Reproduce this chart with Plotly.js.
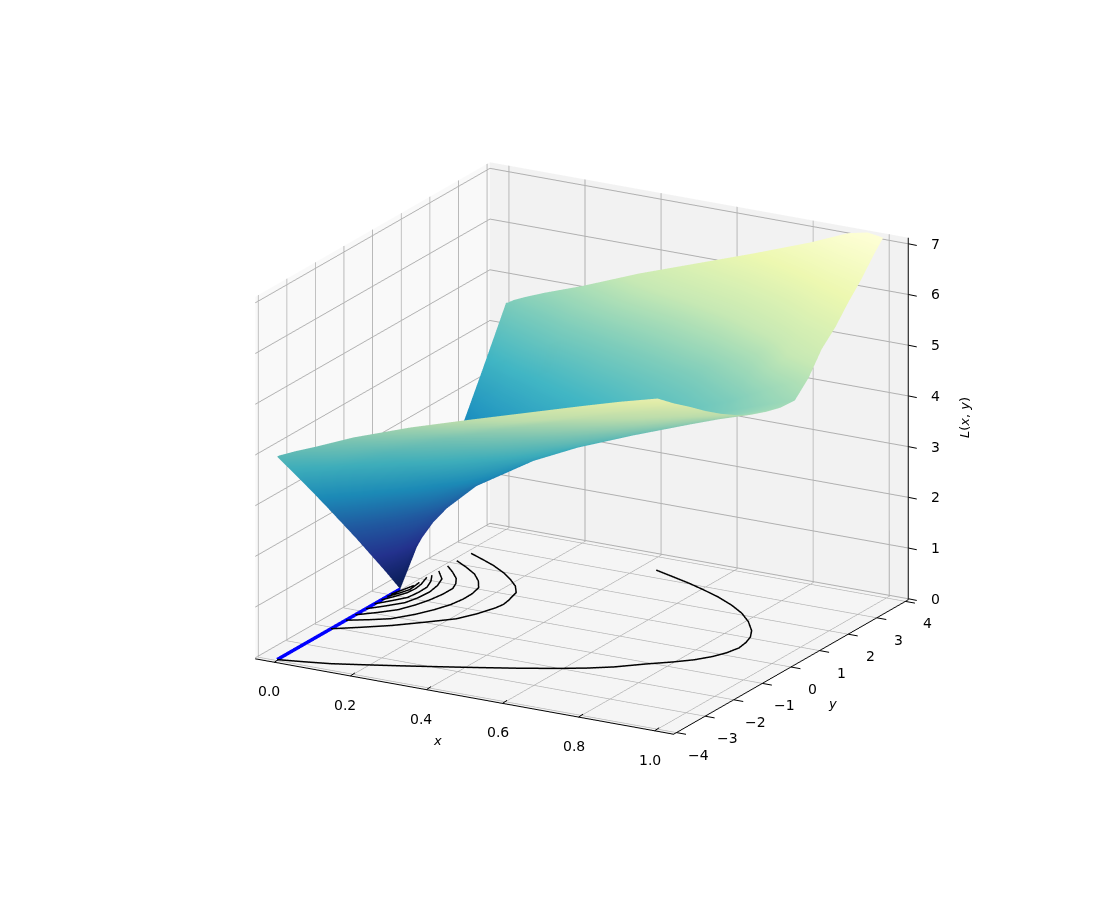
<!DOCTYPE html>
<html>
<head>
<meta charset="utf-8">
<script src="https://cdn.plot.ly/plotly-3.0.1.min.js"></script>
<style>
  html, body { margin: 0; padding: 0; background: #fff; }
  #myPlot { width: 1117px; height: 905px; }
</style>
</head>
<body>
<div id="myPlot"></div>
<script>
// Surface values
var xVals = [0, 0.005, 0.02, 0.05, 0.1, 0.2, 0.35, 0.5, 0.65, 0.8, 0.9, 1];
var yVals = [-4, -3.43, -2.87, -2.32, -1.78, -1.24, -0.72, -0.2, 0.3, 0.8, 1.28, 1.74, 2.22, 2.68, 3.13, 3.57, 4];
var zVals = [
  [4.00, 4.03, 4.08, 4.18, 4.33, 4.65, 5.05, 5.40, 5.74, 6.08, 6.30, 6.50],
  [3.50, 3.53, 3.61, 3.74, 3.90, 4.28, 4.72, 5.08, 5.42, 5.77, 6.00, 6.22],
  [3.00, 3.04, 3.12, 3.29, 3.55, 3.97, 4.45, 4.84, 5.20, 5.54, 5.76, 5.97],
  [2.50, 2.54, 2.63, 2.82, 3.10, 3.57, 4.09, 4.51, 4.89, 5.25, 5.49, 5.71],
  [2.00, 2.04, 2.15, 2.36, 2.68, 3.19, 3.76, 4.22, 4.62, 5.00, 5.25, 5.48],
  [1.50, 1.55, 1.67, 1.93, 2.29, 2.86, 3.47, 3.96, 4.39, 4.79, 5.05, 5.28],
  [1.00, 1.07, 1.23, 1.53, 1.95, 2.58, 3.24, 3.76, 4.20, 4.61, 4.88, 5.12],
  [0.50, 0.61, 0.85, 1.22, 1.70, 2.39, 3.08, 3.62, 4.07, 4.49, 4.76, 5.01],
  [0.00, 0.33, 0.67, 1.10, 1.60, 2.30, 3.00, 3.54, 4.00, 4.42, 4.69, 4.93],
  [0.55, 0.66, 0.88, 1.23, 1.68, 2.36, 3.04, 3.55, 3.99, 4.40, 4.67, 4.91],
  [1.11, 1.21, 1.38, 1.64, 1.99, 2.57, 3.18, 3.65, 4.06, 4.48, 4.85, 5.20],
  [1.67, 1.76, 1.93, 2.11, 2.43, 2.93, 3.41, 3.90, 4.28, 4.78, 5.30, 5.62],
  [2.22, 2.30, 2.42, 2.64, 2.90, 3.33, 3.80, 4.21, 4.58, 5.12, 5.60, 5.90],
  [2.78, 2.85, 2.95, 3.10, 3.36, 3.72, 4.22, 4.60, 5.00, 5.55, 5.95, 6.25],
  [3.34, 3.39, 3.49, 3.65, 3.87, 4.26, 4.65, 5.00, 5.42, 5.92, 6.28, 6.55],
  [3.90, 3.92, 4.01, 4.14, 4.33, 4.69, 5.13, 5.48, 5.86, 6.32, 6.65, 6.90],
  [4.45, 4.46, 4.53, 4.63, 4.78, 5.05, 5.50, 5.90, 6.30, 6.72, 7.04, 7.20]
];

// Curves on the floor, x and y pairs
var curveX = [
  [0, 0.06, 0.122, 0.19, 0.268, 0.345, 0.427, 0.508, 0.588, 0.65, 0.70, 0.753, 0.80, 0.835, 0.86, 0.875, 0.883, 0.878, 0.868, 0.848, 0.81, 0.767, 0.72, 0.664, 0.61, 0.556, 0.50, 0.446],
  [0, 0.055, 0.11, 0.165, 0.216, 0.24, 0.256, 0.26, 0.256, 0.244, 0.22, 0.189, 0.15, 0.105, 0.06, 0.017],
  [0, 0.045, 0.085, 0.118, 0.14, 0.155, 0.161, 0.16, 0.152, 0.128, 0.096, 0.055, 0.014],
  [0, 0.037, 0.068, 0.086, 0.097, 0.103, 0.103, 0.092, 0.075, 0.045, 0.014],
  [0, 0.03, 0.057, 0.066, 0.069, 0.062, 0.048, 0.03, 0.014],
  [0, 0.024, 0.044, 0.048, 0.047, 0.034, 0.015],
  [0, 0.015, 0.027, 0.029, 0.025, 0.012],
  [0, 0.012, 0.021, 0.015],
  [0, 0.015]
];
var curveY = [
  [-4, -3.88, -3.74, -3.52, -3.26, -2.99, -2.7, -2.4, -2.08, -1.8, -1.52, -1.12, -0.8, -0.52, -0.22, 0.07, 0.4, 0.71, 1.0, 1.31, 1.7, 2.04, 2.32, 2.59, 2.8, 2.99, 3.16, 3.32],
  [-2.12, -1.8, -1.46, -1.03, -0.61, -0.2, 0.22, 0.45, 0.68, 1.11, 1.4, 1.65, 1.92, 2.17, 2.37, 2.55],
  [-1.6, -1.38, -1.15, -0.75, -0.37, 0, 0.37, 0.7, 1.02, 1.33, 1.62, 1.87, 2.09],
  [-1.27, -0.97, -0.67, -0.3, 0.05, 0.42, 0.77, 1.02, 1.26, 1.53, 1.77],
  [-0.9, -0.6, -0.29, 0.05, 0.41, 0.78, 1.12, 1.3, 1.46],
  [-0.6, -0.3, -0.03, 0.3, 0.61, 0.92, 1.21],
  [-0.36, -0.08, 0.2, 0.45, 0.7, 1.07],
  [-0.16, 0.1, 0.36, 0.77],
  [-0.02, 0.58]
];
var blueX = [0, 0];
var blueY = [-4, 0.3];
var xTicks = [0, 0.2, 0.4, 0.6, 0.8, 1];
var xTickText = ['0.0', '0.2', '0.4', '0.6', '0.8', '1.0'];
var yTicks = [-4, -3, -2, -1, 0, 1, 2, 3, 4];
var yTickText = ['\u22124', '\u22123', '\u22122', '\u22121', '0', '1', '2', '3', '4'];
var zTicks = [0, 1, 2, 3, 4, 5, 6, 7];
var xRange = [-0.05, 1.05];
var yRange = [-4.1, 4.1];
var zRange = [-0.02, 7.12];

// YlGnBu reversed
var ylgnbuR = [
  [0, '#081d58'], [0.125, '#253494'], [0.25, '#225ea8'], [0.375, '#1d91c0'],
  [0.5, '#41b6c4'], [0.625, '#7fcdbb'], [0.75, '#c7e9b4'], [0.875, '#edf8b1'], [1, '#ffffd9']
];

var data = [{
  type: 'surface',
  x: xVals, y: yVals, z: zVals,
  colorscale: ylgnbuR, cmin: 0, cmax: 7.2,
  showscale: false,
  lighting: {ambient: 0.95, diffuse: 0.1, specular: 0, roughness: 1, fresnel: 0},
  contours: {x: {highlight: false}, y: {highlight: false}, z: {highlight: false}}
}];
for (var i = 0; i < curveX.length; i++) {
  data.push({
    type: 'scatter3d', mode: 'lines',
    x: curveX[i], y: curveY[i], z: curveX[i].map(function(){ return 0; }),
    line: {color: '#000', width: 3}
  });
}
data.push({
  type: 'scatter3d', mode: 'lines',
  x: blueX, y: blueY, z: [0, 0],
  line: {color: '#0000ff', width: 7}
});

// z axis sits on the right hand edge, plotly would put it on the left
data.push({
  type: 'scatter3d', mode: 'lines',
  x: [xRange[1], xRange[1]], y: [yRange[1], yRange[1]], z: zRange,
  line: {color: '#000', width: 2}
});

function axis(range, dtick, bg, t0) {
  return {
    range: range, autorange: false, dtick: dtick, tick0: t0,
    showbackground: true, backgroundcolor: bg,
    gridcolor: '#b0b0b0', gridwidth: 2,
    showline: true, linecolor: '#000', linewidth: 2,
    ticks: '', zeroline: false, showspikes: false,
    showticklabels: false,
    title: {text: ''}
  };
}
var zAxis = axis(zRange, 1, '#f5f5f5', 0);
zAxis.showline = false;

// tick labels and tick marks, anchored to the scene so they follow its scales
var tickFont = {family: 'DejaVu Sans', size: 14, color: '#000'};
var sceneNotes = [];
function addTick(px, py, pz, label, tx, ty, lx, ly) {
  sceneNotes.push({x: px, y: py, z: pz, text: '', showarrow: true, arrowhead: 0, arrowwidth: 1, arrowcolor: '#000', ax: tx, ay: ty, standoff: 0});
  sceneNotes.push({x: px, y: py, z: pz, text: label, showarrow: false, xshift: lx, yshift: ly, font: tickFont});
}
xTicks.forEach(function(t, k) { addTick(t, yRange[0], zRange[0], xTickText[k], 6, -4, -5, -29); });
yTicks.forEach(function(t, k) { addTick(xRange[1], t, zRange[0], yTickText[k], 11, 2, 22, -22); });
zTicks.forEach(function(t) { addTick(xRange[1], yRange[1], t, String(t), 10, 2, 27, 0); });

var titleFont = {family: 'DejaVu Sans', size: 13, color: '#000'};

var layout = {
  width: 1117, height: 905,
  paper_bgcolor: '#fff',
  showlegend: false,
  margin: {l: 0, r: 0, t: 0, b: 0},
  scene: {
    domain: {x: [0, 1], y: [0, 1]},
    aspectmode: 'manual',
    aspectratio: {x: 1.06, y: 1.06, z: 0.845},
    camera: {
      eye: {x: 0.909, y: -1.726, z: 0.652}, center: {x: -0.045, y: -0.025, z: -0.01}, up: {x: 0, y: 0, z: 1},
      projection: {type: 'orthographic'}
    },
    xaxis: axis(xRange, 0.2, '#f9f9f9', 0),
    yaxis: axis(yRange, 1, '#f2f2f2', -4),
    zaxis: zAxis,
    annotations: sceneNotes
  },
  annotations: [
    {text: '<i>x</i>', xref: 'paper', yref: 'paper', x: 437 / 1117, y: 1 - 740 / 905, xanchor: 'center', yanchor: 'middle', showarrow: false, font: titleFont},
    {text: '<i>y</i>', xref: 'paper', yref: 'paper', x: 832 / 1117, y: 1 - 703 / 905, xanchor: 'center', yanchor: 'middle', showarrow: false, font: titleFont},
    {text: '<i>L</i>(<i>x</i>, <i>y</i>)', xref: 'paper', yref: 'paper', x: 964 / 1117, y: 1 - 418 / 905, xanchor: 'center', yanchor: 'middle', showarrow: false, textangle: -90, font: titleFont}
  ]
};

Plotly.newPlot('myPlot', data, layout, {displayModeBar: false});
</script>
</body>
</html>
